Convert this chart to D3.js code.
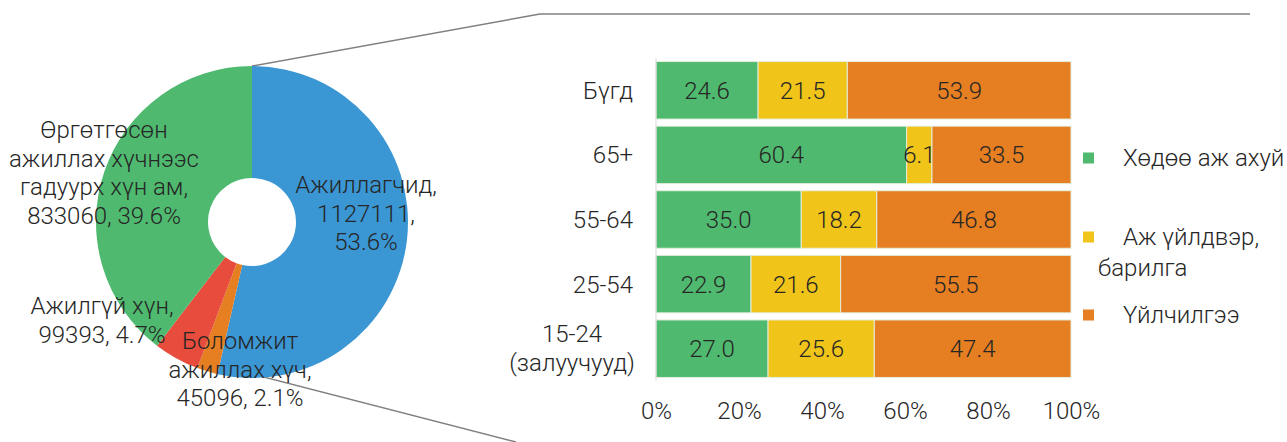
<!DOCTYPE html>
<html>
<head>
<meta charset="utf-8">
<script src="https://cdn.jsdelivr.net/npm/d3@7"></script>
<style>
  body { margin: 0; background: #fff; }
  text { font-family: Roboto, "Noto Sans", sans-serif; font-weight: 300; fill: #262626; }
</style>
</head>
<body>
<svg id="chart" width="1287" height="442"></svg>
<script>
// pie data (clockwise from 12 o'clock)
const pieNames = ['Ажиллагчид', 'Боломжит ажиллах хүч', 'Ажилгүй хүн', 'Өргөтгөсөн ажиллах хүчнээс гадуурх хүн ам'];
const pieValues = [1127111, 45096, 99393, 833060];
const pieColors = ['#3b96d4', '#e67e22', '#e74c3c', '#4fba6f'];

// bar data
const ageGroups = ['Бүгд', '65+', '55-64', '25-54', '15-24 (залуучууд)'];
const sectors = ['Хөдөө аж ахуй', 'Аж үйлдвэр, барилга', 'Үйлчилгээ'];
const agriculture = [24.6, 60.4, 35.0, 22.9, 27.0];
const industry = [21.5, 6.1, 18.2, 21.6, 25.6];
const services = [53.9, 33.5, 46.8, 55.5, 47.4];
const sectorColors = ['#4fba6f', '#f0c419', '#e67e22'];
const xTicks = [0, 20, 40, 60, 80, 100];

const fs = '24px';
const svg = d3.select('#chart');

// ---- connector lines (bar-of-pie) ----
const lineColor = '#808080';
svg.append('polyline')
  .attr('points', '252,66 540,14 1250,14')
  .attr('fill', 'none').attr('stroke', lineColor).attr('stroke-width', 1.5);
svg.append('line')
  .attr('x1', 252).attr('y1', 374).attr('x2', 516).attr('y2', 442)
  .attr('stroke', lineColor).attr('stroke-width', 1.5);

// ---- doughnut ----
const cx = 252, cy = 222, rOuter = 156, rInner = 44;
const pie = d3.pie().sort(null).value(d => d)(pieValues);
const arc = d3.arc().innerRadius(rInner).outerRadius(rOuter);
const pg = svg.append('g').attr('transform', `translate(${cx},${cy})`);
pg.selectAll('path').data(pie).enter().append('path')
  .attr('d', arc)
  .attr('fill', (d, i) => pieColors[i]);

// pie labels
const pieLabels = [
  { lines: ['Ажиллагчид,', '1127111,', '53.6%'], x: 366, y: 185 },
  { lines: ['Боломжит', 'ажиллах хүч,', '45096, 2.1%'], x: 240, y: 341 },
  { lines: ['Ажилгүй хүн,', '99393, 4.7%'], x: 102, y: 306 },
  { lines: ['Өргөтгөсөн', 'ажиллах хүчнээс', 'гадуурх хүн ам,', '833060, 39.6%'], x: 104, y: 130 }
];
pieLabels.forEach(l => {
  const t = svg.append('text').attr('text-anchor', 'middle').style('font-size', fs);
  l.lines.forEach((s, i) => {
    t.append('tspan').attr('x', l.x).attr('y', l.y + i * 28.5).attr('dy', '0.35em').text(s);
  });
});

// ---- stacked bars ----
const x = d3.scaleLinear().domain([0, 100]).range([656, 1071]);
const y = d3.scaleBand().domain(ageGroups).range([58, 381]).paddingInner(0.11).paddingOuter(0.055);

const rows = ageGroups.map((g, i) => ({ group: g, values: [agriculture[i], industry[i], services[i]] }));
const bg = svg.append('g');
rows.forEach(r => {
  let acc = 0;
  r.values.forEach((v, j) => {
    bg.append('rect')
      .attr('x', x(acc)).attr('y', y(r.group))
      .attr('width', x(acc + v) - x(acc)).attr('height', y.bandwidth())
      .attr('fill', sectorColors[j])
      .attr('stroke', '#e4eedc').attr('stroke-width', 1);
    bg.append('text')
      .attr('x', (x(acc) + x(acc + v)) / 2)
      .attr('y', y(r.group) + y.bandwidth() / 2)
      .attr('dy', '0.35em').attr('text-anchor', 'middle')
      .style('font-size', fs)
      .text(v.toFixed(1));
    acc += v;
  });
});

// category axis line
svg.append('line')
  .attr('x1', 656).attr('x2', 656).attr('y1', 58).attr('y2', 381)
  .attr('stroke', '#d9d9d9').attr('stroke-width', 1);

// category labels
ageGroups.forEach(g => {
  const yc = y(g) + y.bandwidth() / 2;
  if (g.includes(' ')) {
    const parts = g.split(' ');
    const t = svg.append('text').attr('text-anchor', 'middle').style('font-size', fs);
    parts.forEach((s, i) => {
      t.append('tspan').attr('x', 572).attr('y', yc - 15 + i * 29).attr('dy', '0.35em').text(s);
    });
  } else {
    svg.append('text').attr('x', 633).attr('y', yc).attr('dy', '0.35em')
      .attr('text-anchor', 'end').style('font-size', fs).text(g);
  }
});

// x axis
const xAxis = svg.append('g').attr('transform', 'translate(0,381)')
  .call(d3.axisBottom(x).tickValues(xTicks).tickFormat(d => d + '%').tickSize(0).tickPadding(21));
xAxis.select('.domain').remove();
xAxis.selectAll('text').style('font-size', fs).style('font-family', 'Roboto, sans-serif')
  .style('font-weight', 300).attr('fill', '#262626');

// legend
const legendItems = [
  { lines: ['Хөдөө аж ахуй'], y: 158 },
  { lines: ['Аж үйлдвэр,', 'барилга'], y: 237 },
  { lines: ['Үйлчилгээ'], y: 315 }
];
legendItems.forEach((l, i) => {
  svg.append('rect').attr('x', 1083).attr('y', l.y - 5.5).attr('width', 11).attr('height', 11)
    .attr('fill', sectorColors[i]);
  svg.append('text').attr('x', 1123).attr('y', l.y).attr('dy', '0.35em')
    .style('font-size', fs).text(l.lines[0]);
  if (l.lines[1]) {
    svg.append('text').attr('x', 1098).attr('y', l.y + 31).attr('dy', '0.35em')
      .style('font-size', fs).text(l.lines[1]);
  }
});
</script>
</body>
</html>
